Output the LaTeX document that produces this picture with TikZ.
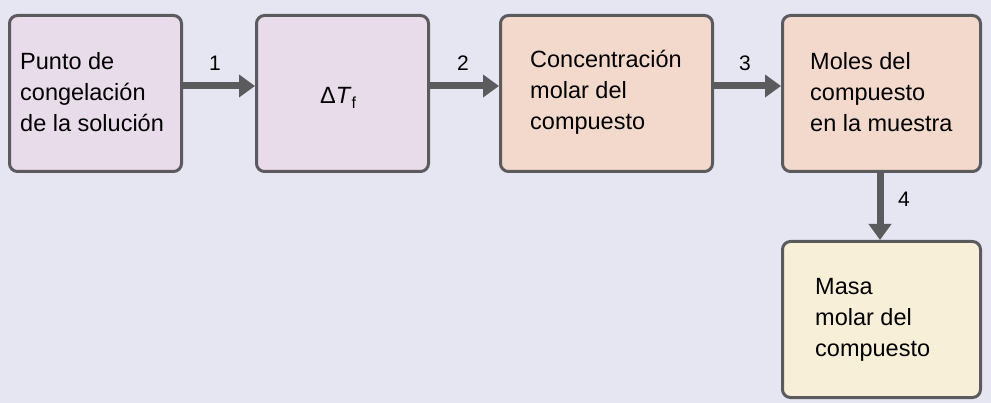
\documentclass[tikz,border=0pt]{standalone}
\usepackage{fontspec}
\setmainfont{Liberation Sans}
\usetikzlibrary{arrows.meta}
\definecolor{bg}{HTML}{E6E6F3}
\definecolor{lav}{HTML}{E8DBEA}
\definecolor{peach}{HTML}{F2D9CC}
\definecolor{cream}{HTML}{F8EFD8}
\definecolor{edge}{HTML}{5B5A5C}
\tikzset{
 box/.style={draw=edge,line width=3pt,rounded corners=8pt,anchor=north west,inner sep=0pt},
 txt/.style={anchor=west,align=left,font=\fontsize{23.5pt}{31pt}\selectfont,inner sep=0pt},
 conn/.style={draw=edge,line width=7pt,-{Triangle[length=16pt,width=22pt]}},
 lab/.style={font=\fontsize{21pt}{24pt}\selectfont}
}
\begin{document}
\begin{tikzpicture}[x=1pt,y=-1pt]
\fill[bg] (0,0) rectangle (991,403);
\useasboundingbox (0,0) rectangle (991,403);
\node[box,fill=lav,minimum width=172pt,minimum height=156pt] (b1) at (8,14) {};
\node[box,fill=lav,minimum width=172pt,minimum height=156pt] (b2) at (255,14) {};
\node[box,fill=peach,minimum width=212pt,minimum height=156pt] (b3) at (499,14) {};
\node[box,fill=peach,minimum width=198pt,minimum height=156pt] (b4) at (781,14) {};
\node[box,fill=cream,minimum width=198pt,minimum height=156pt] (b5) at (781,240) {};
\node[txt] (t1) at (20,92) {Punto de\\congelación\\de la solución};
\node[txt,anchor=center] (t2) at (338,98) {Δ\textit{T}\raisebox{-0.35ex}{\fontsize{16pt}{18pt}\selectfont f}};
\node[txt] (t3) at (530,92) {Concentración\\molar del\\compuesto};
\node[txt] (t4) at (810,92) {Moles del\\compuesto\\en la muestra};
\node[txt] (t5) at (815,320) {Masa\\molar del\\compuesto};
\draw[conn] (b1.east|-0,86) -- (b2.west|-0,86);
\draw[conn] (b2.east|-0,86) -- (b3.west|-0,86);
\draw[conn] (b3.east|-0,86) -- (b4.west|-0,86);
\draw[conn] (b4.south-|880,0) -- (b5.north-|880,0);
\node[lab] (l1) at (215,63) {1};
\node[lab] (l2) at (463,63) {2};
\node[lab] (l3) at (745,63) {3};
\node[lab] (l4) at (904,199) {4};
\end{tikzpicture}
\end{document}
